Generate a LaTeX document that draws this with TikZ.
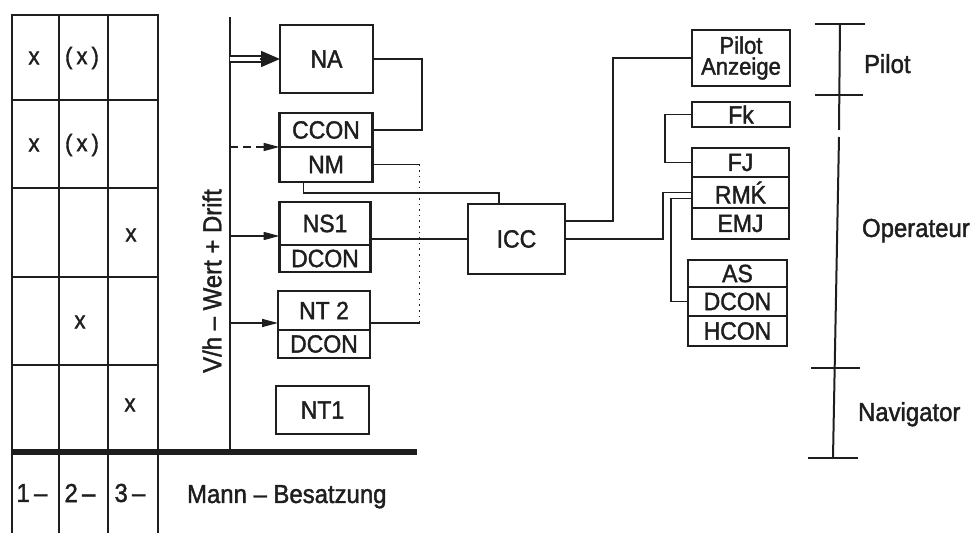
\documentclass[tikz,border=0pt]{standalone}
\usepackage{fontspec}
\setmainfont{Liberation Sans}[FakeStretch=0.92, FakeBold=1.5]
\usetikzlibrary{arrows.meta, positioning, calc}
\definecolor{ink}{HTML}{1E1E1E}

\begin{document}
\begin{tikzpicture}[
    x=0.5pt, y=-0.5pt,
    every node/.style={text=ink},
    box/.style={
        rectangle, draw=ink, line width=1.4pt, inner sep=0pt, outer sep=0pt,
        minimum width=46.5pt, font=\fontsize{12.5}{13}\selectfont,
    },
    grid/.style={draw=ink, line width=1.4pt, line cap=rect},
    wire/.style={draw=ink, line width=0.8pt},
    feed/.style={wire, -{Triangle[length=8pt, width=4pt]}},
    lab/.style={font=\fontsize{13}{14}\selectfont},
    cellmark/.style={font=\fontsize{12}{13}\selectfont},
]

\useasboundingbox[fill=white] (0,0) rectangle (971,533);

% ================================================ left: crew table
\foreach \x in {12,59,108,158}{
    \draw[grid] (\x,15) -- (\x,533);
}
\foreach \y in {15,100,188,277,365}{
    \draw[grid] (12,\y) -- (158,\y);
}
\draw[draw=ink, line width=3pt] (12,452) -- (417,452);

\foreach \x/\y/\t [count=\i] in {34/58/x, 82/58/{(\,x\,)}, 34/145/x, 82/145/{(\,x\,)},
    131/235/x, 80/322/x, 130/405/x}{
    \node[cellmark] (m\i) at (\x,\y) {\t};
}
\node[lab] (crew1) at (32,493) {1\,--};
\node[lab] (crew2) at (80,493) {2\,--};
\node[lab] (crew3) at (130,493) {3\,--};
\node[lab, anchor=base west] (crew) at (180,503) {Mann -- Besatzung};

% ================================================ bus
\coordinate (bustop) at (230,17);
\coordinate (busbot) at (230,452);
\draw[draw=ink, line width=1.2pt] (bustop) -- (busbot);
\node[lab, rotate=90] (vh) at (212,281) {V/h -- Wert + Drift};

% ================================================ navigation units
\node[box, minimum height=34pt] (na) at (326.5,59) {NA};
\node[box, minimum height=17pt] (ccon) at (326,130) {CCON};
\node[box, minimum height=17.5pt, below=0pt of ccon] (nm) {NM};
\node[box, minimum width=45.5pt, minimum height=21.5pt] (ns1) at (325,223.5) {NS1};
\node[box, minimum width=45.5pt, minimum height=13.5pt, below=0pt of ns1] (dcon1) {DCON};
\node[box, minimum width=46pt, minimum height=19.5pt] (nt2) at (324,310.5) {NT 2};
\node[box, minimum width=46pt, minimum height=14pt, below=0pt of nt2] (dcon2) {DCON};
\node[box, minimum height=24pt] (nt1) at (322.5,410) {NT1};

% inputs from the bus
\draw[wire, double, double distance=2.2pt, line width=0.7pt]
    (bustop |- na.west) -- ($(na.west)+(-18,0)$);
\draw[wire, -{Triangle[length=9.5pt, width=8pt]}] ($(na.west)+(-20,0)$) -- (na.west);
\draw[feed, dash pattern=on 4pt off 2.5pt] (bustop |- ccon.south west) -- (ccon.south west);
\coordinate (ns1in) at ($(ns1.west)+(0,12.5)$);
\draw[feed] (bustop |- ns1in) -- (ns1in);
\coordinate (nt2in) at ($(nt2.west)+(0,12.5)$);
\draw[feed] (bustop |- nt2in) -- (nt2in);

% ================================================ ICC
\node[box, minimum width=48.5pt, minimum height=35pt] (icc) at (516.5,239) {ICC};

\draw[wire] (na.east) -- ++(49,0) |- (ccon.east);
\coordinate (nt2out) at ($(nt2.east)+(0,12.5)$);
\draw[wire] (nm.east) -- ++(47,0) coordinate (nmk);
\draw[wire, dotted] (nmk) -- (nmk |- nt2out);
\draw[wire] (nmk |- nt2out) -- (nt2out);
\draw[wire] ($(nm.south west)+(24,0)$) -- ++(0,11) -| ($(icc.north west)+(31,0)$);
\draw[wire] (ns1.east |- icc.west) -- (icc.west);

% ================================================ right: displays and controls
\node[box, minimum width=49pt, minimum height=28pt, align=center,
    font=\fontsize{12}{10.5}\selectfont] (pilot) at (741,58) {Pilot\\Anzeige};
\node[box, minimum width=49pt, minimum height=12.5pt] (fk) at (741,114.5) {Fk};
\node[box, minimum width=48.5pt, minimum height=14.5pt] (fj) at (740.5,162.5) {FJ};
\node[box, minimum width=48.5pt, minimum height=15.5pt, below=0pt of fj] (rmk) {RM\'K};
\node[box, minimum width=48.5pt, minimum height=15.5pt, below=0pt of rmk] (emj) {EMJ};
\node[box, minimum width=49.5pt, minimum height=13.5pt] (as) at (737.5,273.5) {AS};
\node[box, minimum width=49.5pt, minimum height=14.5pt, below=0pt of as] (dconr) {DCON};
\node[box, minimum width=49.5pt, minimum height=15pt, below=0pt of dconr] (hcon) {HCON};

\draw[wire] ($(icc.north east)!0.24!(icc.south east)$) -- ++(48,0) |- (pilot.west);
\draw[wire] (icc.east) -- ++(98,0) |- (rmk.west);
\draw[wire] (fk.west) -- ++(-27,0) |- (fj.west);
\draw[wire] ($(rmk.west)+(0,6)$) -- ++(-21,0) |- (dconr.west);

% ================================================ crew stations
\draw[wire, line width=1pt] (840,24) -- (839,130);
\draw[wire, line width=1pt] (839,137) -- (833,458);
\foreach \xa/\xb/\y in {815/865/24, 815/863/95, 811/860/368, 808/858/458}{
    \draw[wire, line width=1pt] (\xa,\y) -- (\xb,\y);
}
\node[lab, anchor=base west] (pil) at (857,73) {Pilot};
\node[lab, anchor=base west] (ope) at (855,237) {Operateur};
\node[lab, anchor=base west] (nav) at (851,421) {Navigator};

\end{tikzpicture}
\end{document}
